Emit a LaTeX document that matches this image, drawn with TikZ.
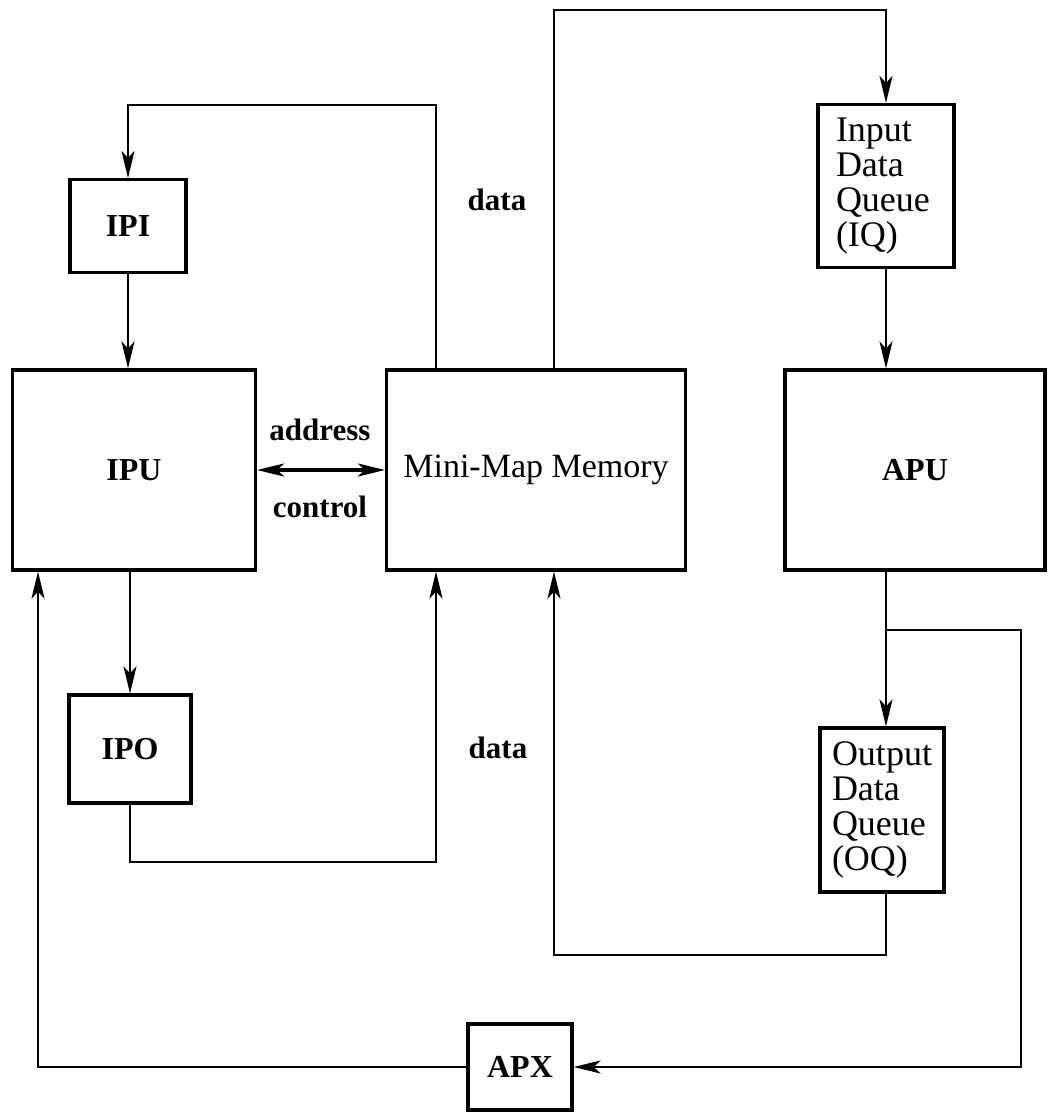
\documentclass[tikz,border=0pt]{standalone}
\usepackage{fontspec}
\setmainfont{Liberation Serif}
\usetikzlibrary{arrows.meta}

\begin{document}
\begin{tikzpicture}[>={Stealth[length=27pt,width=13pt,inset=7pt]},x=1pt,y=-1pt]
  \tikzstyle{unit}=[draw,line width=3.2pt,inner sep=0pt,font=\fontsize{32}{34}\selectfont\bfseries]
  \tikzstyle{queue}=[draw,line width=3.2pt,inner sep=0pt,align=left,text width=100pt,font=\fontsize{36}{35}\selectfont]
  \tikzstyle{wire}=[line width=2.2pt]
  \tikzstyle{lbl}=[inner sep=0pt,font=\fontsize{31}{33}\selectfont\bfseries]
  \useasboundingbox (0,0) rectangle (1048,1112);
  % processing units
  \node[unit,minimum width=116pt,minimum height=93pt] (ipi) at (128,226) {IPI};
  \node[unit,minimum width=243pt,minimum height=200pt] (ipu) at (134,470) {IPU};
  \node[unit,minimum width=122pt,minimum height=108pt] (ipo) at (130,749) {IPO};
  \node[unit,minimum width=299pt,minimum height=200pt,font=\fontsize{34}{36}\selectfont] (mini) at (536,470) {Mini-Map Memory};
  \node[unit,minimum width=260pt,minimum height=200pt] (apu) at (915,470) {APU};
  \node[queue,minimum width=136pt,minimum height=163pt] (iq) at (886,186) {Input\\Data\\Queue\\(IQ)};
  \node[queue,minimum width=124pt,minimum height=164pt] (oq) at (882,810) {Output\\Data\\Queue\\(OQ)};
  \node[unit,minimum width=104pt,minimum height=86pt] (apx) at (520,1067) {APX};
  % bend points
  \coordinate (ipiloop) at (436,105);
  \coordinate (iqloop) at (554,10);
  \coordinate (ipoloop) at (436,862);
  \coordinate (oqloop) at (554,955);
  \coordinate (split) at (886,630);
  \coordinate (apxloop) at (1021,630);
  \coordinate (ipuloop) at (38,1067);
  % connectors
  \draw[wire,->] (mini.north -| ipiloop) -- (ipiloop) -| (ipi.north);
  \draw[wire,->] (mini.north -| iqloop) -- (iqloop) -| (iq.north);
  \draw[wire,->] (ipi.south) -- (ipi.south |- ipu.north);
  \draw[wire,->] (iq.south) -- (iq.south |- apu.north);
  \draw[line width=3.5pt,<->] (ipu.east) -- (mini.west);
  \draw[wire,->] (ipo.north |- ipu.south) -- (ipo.north);
  \draw[wire,->] (ipo.south) |- (ipoloop) -- (mini.south -| ipoloop);
  \draw[wire,->] (apu.south -| split) -- (split |- oq.north);
  \draw[wire,->] (oq.south -| split) |- (oqloop) -- (mini.south -| oqloop);
  \draw[wire,->] (split) -- (apxloop) |- (apx.east);
  \draw[wire,->] (apx.west) -- (ipuloop) -- (ipu.south -| ipuloop);
  % labels
  \node[lbl] (dataup) at (497,200) {data};
  \node[lbl] (addr) at (320,430) {address};
  \node[lbl] (ctrl) at (320,507) {control};
  \node[lbl] (datadown) at (498,748) {data};
\end{tikzpicture}
\end{document}
